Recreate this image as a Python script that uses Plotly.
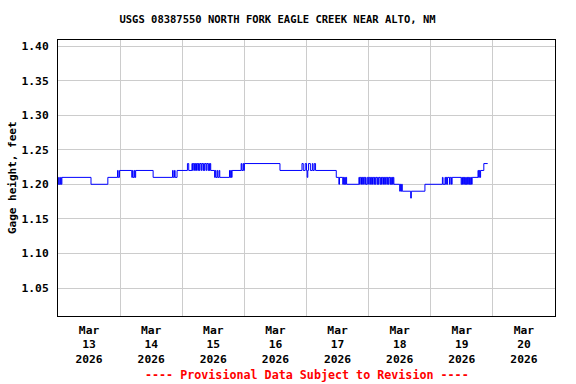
import pandas as pd
import plotly.graph_objects as go

# Change points of the gage-height step series: hours after 2026-03-13 00:00, value (feet)
step_hours = [
    0.0, 0.25, 0.5, 1.0, 1.25, 1.5, 12.75, 19.25, 23.0, 23.25, 23.75,
    28.5, 28.75, 29.0, 29.5, 29.75, 30.0, 36.75, 44.25, 44.5, 45.0, 45.25, 46.0,
    50.0, 50.5, 51.75, 52.0, 52.25, 52.75, 53.0, 53.25, 53.5, 54.0, 54.25, 54.5,
    54.75, 55.25, 55.5, 56.0, 56.25, 56.5, 56.75, 57.25, 57.5, 58.0, 58.25, 58.5,
    58.75, 59.0, 60.5, 60.75, 61.0, 61.5, 61.75, 62.25, 62.5, 66.25, 66.5, 66.75,
    67.0, 67.25, 70.75, 71.0, 71.5, 71.75, 72.0, 85.75, 94.25, 94.75, 95.5, 96.0,
    96.25, 96.5, 96.75, 97.5, 98.25, 98.5, 99.0, 99.5, 107.5, 108.5, 108.75,
    110.0, 110.25, 110.5, 110.75, 111.0, 111.25, 111.5, 116.25, 116.5, 116.75,
    117.25, 117.5, 117.75, 118.0, 118.5, 118.75, 119.0, 119.5, 120.0, 120.25,
    120.75, 121.0, 121.25, 121.5, 122.0, 122.25, 122.5, 122.75, 123.25, 123.5,
    123.75, 124.0, 124.5, 124.75, 125.0, 125.25, 125.75, 126.0, 126.25, 126.5,
    127.0, 127.25, 127.5, 127.75, 128.25, 128.5, 128.75, 129.0, 129.25, 129.5,
    129.75, 132.0, 132.25, 132.5, 132.75, 133.0, 136.25, 136.5, 141.75, 148.5,
    148.75, 149.5, 149.75, 150.0, 150.25, 150.5, 151.25, 151.5, 152.0, 152.25,
    155.75, 156.0, 156.25, 156.5, 156.75, 157.0, 157.25, 157.5, 157.75, 158.0,
    158.25, 158.5, 158.75, 159.0, 159.25, 159.5, 159.75, 160.0, 162.25, 162.5,
    162.75, 163.0, 163.25, 164.5, 166.0,
]
step_values = [
    1.20, 1.21, 1.20, 1.21, 1.20, 1.21, 1.20, 1.21, 1.22, 1.21, 1.22,
    1.21, 1.22, 1.21, 1.22, 1.21, 1.22, 1.21, 1.22, 1.21, 1.22, 1.21, 1.22,
    1.23, 1.22, 1.23, 1.22, 1.23, 1.22, 1.23, 1.22, 1.23, 1.22, 1.23, 1.22,
    1.23, 1.22, 1.23, 1.22, 1.23, 1.22, 1.23, 1.22, 1.23, 1.22, 1.23, 1.22,
    1.23, 1.22, 1.21, 1.22, 1.21, 1.22, 1.21, 1.22, 1.21, 1.22, 1.21, 1.22,
    1.21, 1.22, 1.23, 1.22, 1.23, 1.22, 1.23, 1.22, 1.23, 1.22, 1.23, 1.22,
    1.21, 1.22, 1.23, 1.22, 1.23, 1.22, 1.23, 1.22, 1.21, 1.20, 1.21,
    1.20, 1.21, 1.20, 1.21, 1.20, 1.21, 1.20, 1.21, 1.20, 1.21,
    1.20, 1.21, 1.20, 1.21, 1.20, 1.21, 1.20, 1.21, 1.20, 1.21,
    1.20, 1.21, 1.20, 1.21, 1.20, 1.21, 1.20, 1.21, 1.20, 1.21,
    1.20, 1.21, 1.20, 1.21, 1.20, 1.21, 1.20, 1.21, 1.20, 1.21,
    1.20, 1.21, 1.20, 1.21, 1.20, 1.21, 1.20, 1.21, 1.20, 1.21,
    1.20, 1.19, 1.20, 1.19, 1.20, 1.19, 1.18, 1.19, 1.20, 1.21,
    1.20, 1.21, 1.20, 1.21, 1.20, 1.21, 1.20, 1.21, 1.20, 1.21,
    1.20, 1.21, 1.20, 1.21, 1.20, 1.21, 1.20, 1.21, 1.20, 1.21,
    1.20, 1.21, 1.20, 1.21, 1.20, 1.21, 1.20, 1.21, 1.22, 1.21,
    1.22, 1.21, 1.22, 1.23, 1.23,
]

start = pd.Timestamp("2026-03-13 00:00")
day_dates = ["2026-03-13", "2026-03-14", "2026-03-15", "2026-03-16",
             "2026-03-17", "2026-03-18", "2026-03-19", "2026-03-20"]
tick_labels = ["Mar<br>13<br>2026", "Mar<br>14<br>2026", "Mar<br>15<br>2026",
               "Mar<br>16<br>2026", "Mar<br>17<br>2026", "Mar<br>18<br>2026",
               "Mar<br>19<br>2026", "Mar<br>20<br>2026"]
y_ticks = [1.05, 1.10, 1.15, 1.20, 1.25, 1.30, 1.35, 1.40]

times = [start + pd.Timedelta(hours=h) for h in step_hours]
noon_ticks = [pd.Timestamp(d) + pd.Timedelta(hours=12) for d in day_dates]
midnight_grid = [pd.Timestamp(d) for d in day_dates[1:]]

FONT = "DejaVu Sans Mono"

fig = go.Figure()
fig.add_trace(go.Scatter(
    x=times, y=step_values, mode="lines", line_shape="hv",
    line=dict(color="#0000ff", width=1), showlegend=False,
))

fig.update_layout(
    width=576, height=384,
    margin=dict(l=58, r=21, t=40, b=68),
    paper_bgcolor="white", plot_bgcolor="white",
    font=dict(family=FONT, size=11, color="black", weight="bold"),
    title=dict(text="USGS 08387550 NORTH FORK EAGLE CREEK NEAR ALTO, NM",
               x=277.5 / 576, xanchor="center", y=1 - 19 / 384, yanchor="middle",
               yref="container",
               font=dict(family=FONT, size=10.5, color="black", weight="bold")),
)
fig.update_xaxes(
    type="date",
    range=[start, start + pd.Timedelta(days=8)],
    tickmode="array", tickvals=noon_ticks, ticktext=tick_labels,
    showgrid=False, ticks="", zeroline=False, automargin=False,
    ticklabelstandoff=3,
    showline=True, mirror=True, linecolor="black", linewidth=1,
    minor=dict(tickmode="array", tickvals=midnight_grid, showgrid=True,
               gridcolor="#cccccc", gridwidth=1, ticks=""),
    tickfont=dict(family=FONT, size=11.3, color="black", weight="bold"),
)
fig.update_yaxes(
    range=[1.0095, 1.4087],
    tickmode="array", tickvals=y_ticks,
    ticktext=[f"{v:.2f}" for v in y_ticks],
    showgrid=True, gridcolor="#cccccc", gridwidth=1, ticks="",
    ticklabelstandoff=6, zeroline=False, automargin=False,
    showline=True, mirror=True, linecolor="black", linewidth=1,
    tickfont=dict(family=FONT, size=11.3, color="black", weight="bold"),
)
fig.add_annotation(
    text="Gage height, feet", textangle=-90,
    xref="paper", yref="paper", x=0, y=0.5, xshift=-46,
    xanchor="center", yanchor="middle", showarrow=False,
    font=dict(family=FONT, size=11, color="black", weight="bold"),
)
fig.add_annotation(
    text="---- Provisional Data Subject to Revision ----",
    xref="paper", yref="paper", x=0.5, y=0, yshift=-59,
    xanchor="center", yanchor="middle", showarrow=False,
    font=dict(family=FONT, size=11.7, color="red", weight="bold"),
)

fig.write_html(
    "out.html",
    config={"displayModeBar": False},
    post_script="document.body.style.margin='0';document.body.style.padding='0';",
)
